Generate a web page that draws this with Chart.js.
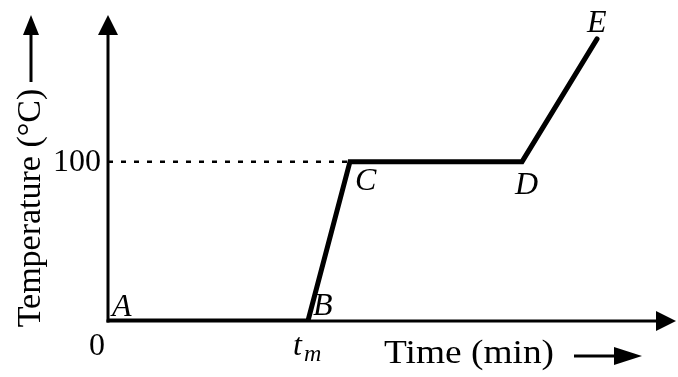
<!DOCTYPE html>
<html>
<head>
<meta charset="utf-8">
<script src="https://cdn.jsdelivr.net/npm/chart.js@4"></script>
<style>
html,body{margin:0;padding:0;background:#fff;}
#wrap{width:678px;height:377px;position:relative;}
</style>
</head>
<body>
<div id="wrap"><canvas id="c" width="678" height="377"></canvas></div>
<script>
// ---- data ----
const pointLabels = ['A', 'B', 'C', 'D', 'E'];
const timeValues = [0, 3.52, 4.26, 7.29, 8.61];
const tempValues = [0, 0, 100, 100, 177];
const yTickValues = [0, 100];
const yTickLabels = ['0', '100'];
const meltIndex = 1;          // t_m at point B
const boilIndex = 2;          // 100 °C reached at C
const xTitle = 'Time (min)';
const yTitle = 'Temperature (°C)';
const xMax = 10;
const yMax = 192;

// label offsets (style only)
const labelOffsets = [[4, -5], [5, -6], [5, 28], [-7, 32], [-10, -7]];

const FONT = '"Liberation Serif", "DejaVu Serif", serif';

function arrowHead(ctx, tipX, tipY, dir, len, half) {
  ctx.beginPath();
  if (dir === 'up') {
    ctx.moveTo(tipX, tipY);
    ctx.lineTo(tipX - half, tipY + len);
    ctx.lineTo(tipX + half, tipY + len);
  } else {
    ctx.moveTo(tipX, tipY);
    ctx.lineTo(tipX - len, tipY - half);
    ctx.lineTo(tipX - len, tipY + half);
  }
  ctx.closePath();
  ctx.fill();
}

const decor = {
  id: 'decor',
  beforeDatasetsDraw(chart) {
    const {ctx, chartArea: a} = chart;
    ctx.save();
    ctx.strokeStyle = '#000';
    ctx.fillStyle = '#000';
    ctx.lineWidth = 3;
    // y axis
    ctx.beginPath();
    ctx.moveTo(a.left, a.bottom + 1.5);
    ctx.lineTo(a.left, a.top + 15);
    ctx.stroke();
    arrowHead(ctx, a.left, a.top, 'up', 20, 10);
    // x axis
    ctx.beginPath();
    ctx.moveTo(a.left - 1.5, a.bottom);
    ctx.lineTo(a.right - 15, a.bottom);
    ctx.stroke();
    arrowHead(ctx, a.right, a.bottom, 'right', 20, 10);
    ctx.restore();
  },
  afterDatasetsDraw(chart) {
    const {ctx, chartArea: a, scales} = chart;
    const xs = scales.x, ys = scales.y;
    ctx.save();
    ctx.fillStyle = '#000';
    ctx.strokeStyle = '#000';
    // y tick labels
    ctx.font = '32px ' + FONT;
    yTickValues.forEach((v, i) => {
      const py = ys.getPixelForValue(v);
      if (v === 0) {
        ctx.textAlign = 'center';
        ctx.textBaseline = 'alphabetic';
        ctx.fillText(yTickLabels[i], a.left - 11, py + 34);
      } else {
        ctx.textAlign = 'right';
        ctx.textBaseline = 'middle';
        ctx.fillText(yTickLabels[i], a.left - 7, py + 1);
      }
    });
    // t_m label
    const tx = xs.getPixelForValue(timeValues[meltIndex]);
    ctx.textAlign = 'left';
    ctx.textBaseline = 'alphabetic';
    ctx.font = 'italic 32px ' + FONT;
    ctx.fillText('t', tx - 15, a.bottom + 34);
    ctx.font = 'italic 24px ' + FONT;
    ctx.fillText('m', tx - 4, a.bottom + 40);
    // point labels
    ctx.font = 'italic 32px ' + FONT;
    pointLabels.forEach((lab, i) => {
      const px = xs.getPixelForValue(timeValues[i]);
      const py = ys.getPixelForValue(tempValues[i]);
      ctx.fillText(lab, px + labelOffsets[i][0], py + labelOffsets[i][1]);
    });
    // x title (slightly widened to match the original typeface)
    ctx.font = '34px ' + FONT;
    ctx.textAlign = 'left';
    ctx.save();
    ctx.translate(384, 363);
    ctx.scale(1.1, 1);
    ctx.fillText(xTitle, 0, 0);
    ctx.restore();
    ctx.lineWidth = 3;
    ctx.beginPath();
    ctx.moveTo(574, 356);
    ctx.lineTo(625, 356);
    ctx.stroke();
    arrowHead(ctx, 642, 356, 'right', 28, 9);
    // y title
    ctx.save();
    ctx.translate(40, 208);
    ctx.rotate(-Math.PI / 2);
    ctx.textAlign = 'center';
    ctx.fillText(yTitle, 0, 0);
    ctx.restore();
    ctx.beginPath();
    ctx.moveTo(31, 82);
    ctx.lineTo(31, 30);
    ctx.stroke();
    arrowHead(ctx, 31, 15, 'up', 20, 8);
    ctx.restore();
  }
};

const mainData = timeValues.map((t, i) => ({x: t, y: tempValues[i]}));
const dashData = [{x: 0, y: tempValues[boilIndex]}, {x: timeValues[boilIndex], y: tempValues[boilIndex]}];

new Chart(document.getElementById('c'), {
  type: 'scatter',
  data: {
    datasets: [
      {
        data: dashData,
        showLine: true,
        borderColor: '#000',
        borderWidth: 2.5,
        borderDash: [5, 8],
        pointRadius: 0
      },
      {
        data: mainData,
        showLine: true,
        borderColor: '#000',
        borderWidth: 5,
        borderJoinStyle: 'miter',
        borderCapStyle: 'round',
        pointRadius: 0,
        tension: 0
      }
    ]
  },
  options: {
    responsive: false,
    animation: false,
    devicePixelRatio: 1,
    layout: {padding: {left: 108, right: 2, top: 15, bottom: 56}},
    plugins: {legend: {display: false}, tooltip: {enabled: false}},
    scales: {
      x: {type: 'linear', display: false, min: 0, max: xMax},
      y: {type: 'linear', display: false, min: 0, max: yMax}
    }
  },
  plugins: [decor]
});
</script>
</body>
</html>
